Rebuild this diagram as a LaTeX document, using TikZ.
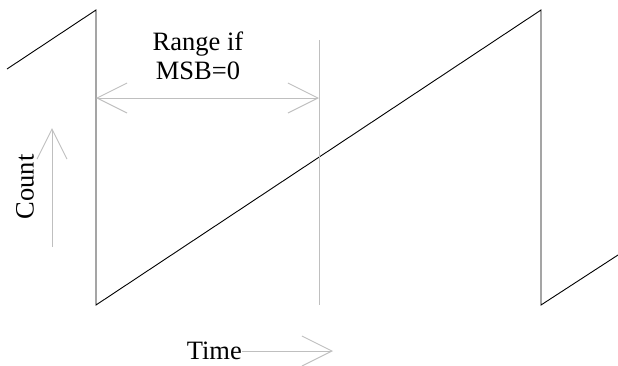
\documentclass[tikz,border=0pt]{standalone}
\usepackage{fontspec}
\setmainfont{Liberation Serif}
\usetikzlibrary{arrows.meta,positioning}

\begin{document}
\begin{tikzpicture}[
  x=1pt, y=-1pt,
  wave/.style={draw=black, line width=0.9pt, line join=miter},
  guide/.style={draw=black!25, line width=1pt},
  arr/.style={guide, -{Straight Barb[length=30pt, width=30pt, line width=1pt]}},
  darr/.style={guide, {Straight Barb[length=30pt, width=30pt, line width=1pt]}-{Straight Barb[length=30pt, width=30pt, line width=1pt]}},
  lbl/.style={font=\fontsize{26.5}{29}\selectfont, inner sep=0pt, align=center},
]
\useasboundingbox (0,0) rectangle (618,365);
% sawtooth count
\coordinate (s0) at (7,69);
\coordinate (p1) at (96,10);
\coordinate (b1) at (96,305);
\coordinate (p2) at (541,10);
\coordinate (b2) at (541,305);
\coordinate (s1) at (618,255);
\draw[wave] (s0) -- (p1) -- (b1) -- (p2) -- (b2) -- (s1);
% MSB=0 range
\coordinate (mtop) at (319,40);
\coordinate (mbot) at (319,305);
\draw[guide] (mtop) -- (mbot);
\coordinate (rl) at (96,98);
\coordinate (rr) at (319,98);
\draw[darr] (rl) -- (rr);
\node[lbl] (range) at (198,56) {Range if\\MSB=0};
% axes
\node[lbl, rotate=90] (count) at (25,187) {Count};
\coordinate (cbot) at (52,247);
\coordinate (ctop) at (52,128);
\draw[arr] (cbot) -- (ctop);
\node[lbl, anchor=east] (time) at (242,351) {Time};
\coordinate (tend) at (333,351);
\draw[arr] (time.east) -- (tend);
\end{tikzpicture}
\end{document}
